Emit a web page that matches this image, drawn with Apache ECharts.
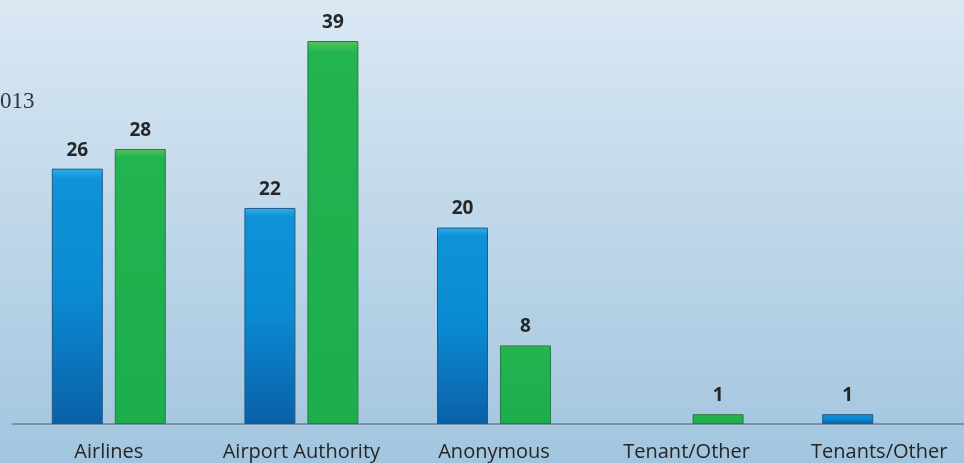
<!DOCTYPE html>
<html><head><meta charset="utf-8">
<script src="https://cdn.jsdelivr.net/npm/echarts@6/dist/echarts.min.js"></script>
<style>html,body{margin:0;padding:0;}#c{width:964px;height:463px;}</style>
</head><body><div id="c"></div>
<script>
const categories = ['Airlines', 'Airport Authority', 'Anonymous', 'Tenant/Other', 'Tenants/Other'];
const seriesBlue = [26, 22, 20, null, 1];
const seriesGreen = [28, 39, 8, 1, null];
const cornerText = '013';

const chart = echarts.init(document.getElementById('c'));
const lbl = {show: true, position: 'top', distance: 9, color: '#262626', fontFamily: 'Open Sans', fontWeight: 'bold', fontSize: 19,
  formatter: p => (p.value == null ? '' : p.value)};
chart.setOption({
  backgroundColor: new echarts.graphic.LinearGradient(0, 0, 0, 1, [
    {offset: 0, color: '#dae8f3'}, {offset: 1, color: '#a2c5df'}]),
  animation: false,
  graphic: [{type: 'text', left: 0, top: 90, style: {text: cornerText, fill: '#333', font: '23px "Liberation Serif"'}}],
  grid: {left: 12.5, width: 963, top: 41, bottom: 39, outerBoundsMode: 'none', containLabel: false},
  xAxis: {type: 'category', data: categories,
    axisLine: {lineStyle: {color: '#6d7c88', width: 1.5}}, axisTick: {show: false},
    axisLabel: {interval: 0, hideOverlap: false, color: '#262626', fontFamily: 'Open Sans', fontSize: 20, margin: 18}},
  yAxis: {type: 'value', min: 0, max: 39, show: false, splitLine: {show: false}},
  series: [
    {type: 'bar', data: seriesBlue, barWidth: 51, barGap: '23.5%', label: lbl,
      itemStyle: {color: new echarts.graphic.LinearGradient(0, 0, 0, 1, [
        {offset: 0, color: '#2eb0ec'}, {offset: 0.04, color: '#0f92d8'}, {offset: 0.5, color: '#0a8ad2'}, {offset: 1, color: '#0a60a8'}]),
        borderColor: '#215a86', borderWidth: 1}},
    {type: 'bar', data: seriesGreen, barWidth: 51, label: lbl,
      itemStyle: {color: new echarts.graphic.LinearGradient(0, 0, 0, 1, [
        {offset: 0, color: '#55c35c'}, {offset: 0.03, color: '#22b450'}, {offset: 1, color: '#1cae4d'}]),
        borderColor: '#2b7a45', borderWidth: 1}}
  ]
});
</script></body></html>
